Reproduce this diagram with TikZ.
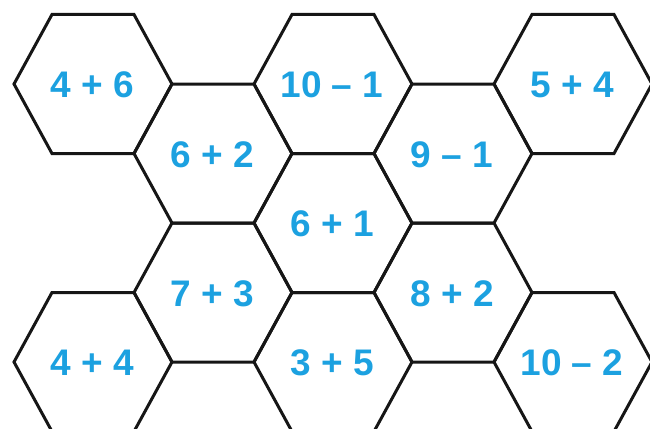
\documentclass[tikz,border=0pt]{standalone}
\usepackage{fontspec}
\setmainfont{Liberation Sans}
\definecolor{numblue}{RGB}{28,161,224}
\definecolor{hexink}{RGB}{22,22,22}
\tikzset{
  hexline/.style={draw=hexink, line width=3pt, line join=miter},
  numtext/.style={text=numblue, font=\fontsize{37}{40}\selectfont\bfseries, inner sep=0pt}
}
\begin{document}
\begin{tikzpicture}[x=1pt,y=-1pt]
\useasboundingbox (0,0) rectangle (650,428);
\clip (0,0) rectangle (650,428);
\foreach \cx/\cy/\lab/\nm in {
  93/84/{4 + 6}/h1, 333/84/{10 \textendash{} 1}/h2, 573/84/{5 + 4}/h3,
  213/153.5/{6 + 2}/h4, 453/153.5/{9 \textendash{} 1}/h5,
  333/223/{6 + 1}/h6,
  213/292.5/{7 + 3}/h7, 453/292.5/{8 + 2}/h8,
  93/362/{4 + 4}/h9, 333/362/{3 + 5}/h10, 573/362/{10 \textendash{} 2}/h11}{
  \draw[hexline] (\cx-79,\cy) -- (\cx-41,\cy-69.5) -- (\cx+41,\cy-69.5)
     -- (\cx+79,\cy) -- (\cx+41,\cy+69.5) -- (\cx-41,\cy+69.5) -- cycle;
  \node[numtext] (\nm) at (\cx-1,\cy+1) {\lab};
}
\end{tikzpicture}
\end{document}
